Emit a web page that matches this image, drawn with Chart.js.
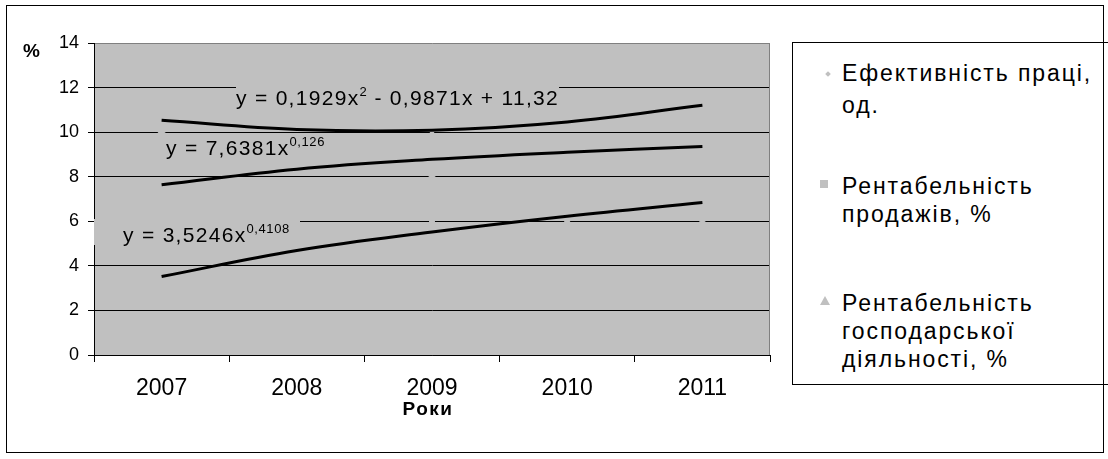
<!DOCTYPE html>
<html>
<head>
<meta charset="utf-8">
<script src="https://cdn.jsdelivr.net/npm/chart.js@4.4.1/dist/chart.umd.min.js"></script>
<style>
  html,body{margin:0;padding:0;background:#fff;}
  body{font-family:"Liberation Sans",Arial,sans-serif;color:#000;}
  #wrap{position:relative;width:1108px;height:459px;overflow:hidden;}
  #chart{position:absolute;left:0;top:0;}
  #frame{position:absolute;left:6px;top:5px;width:1096px;height:446px;border:1px solid #000;pointer-events:none;}
  .eq{position:absolute;font-size:21px;line-height:22px;white-space:nowrap;letter-spacing:1.3px;background:#c0c0c0;}
  .eq sup{font-size:13px;position:relative;top:-9px;vertical-align:baseline;line-height:0;letter-spacing:0.6px;}
  #legend{position:absolute;left:792px;top:42px;width:320px;height:341px;border:1px solid #000;background:#fff;}
  .item{position:absolute;left:49px;font-size:23px;line-height:28px;letter-spacing:1.9px;white-space:nowrap;}
  .mk{position:absolute;background:#c0c0c0;}
  .axt{position:absolute;font-weight:bold;white-space:nowrap;}
</style>
</head>
<body>
<div id="wrap">
  <canvas id="chart" width="1108" height="459"></canvas>
  <div class="eq" style="left:236px;top:87px;">y = 0,1929x<sup>2</sup> - 0,9871x + 11,32</div>
  <div class="eq" style="left:166px;top:137px;">y = 7,6381x<sup>0,126</sup></div>
  <div class="eq" style="left:94px;top:219px;padding:5px 10px 0 29px;line-height:21px;">y = 3,5246x<sup>0,4108</sup></div>
  <div class="axt" style="left:23px;top:40px;font-size:19px;">%</div>
  <div class="axt" style="left:378px;top:398px;width:100px;text-align:center;font-size:19px;letter-spacing:1.5px;">Роки</div>
  <div id="legend">
    <div class="mk" style="left:33px;top:29px;width:4px;height:4px;transform:rotate(45deg);"></div>
    <div class="item" style="top:16px;line-height:28px;">Ефективність праці,</div>
    <div class="item" style="top:48px;line-height:28px;">од.</div>
    <div class="mk" style="left:27px;top:137px;width:8px;height:8px;"></div>
    <div class="item" style="top:129px;">Рентабельність<br>продажів, %</div>
    <div class="mk" style="left:27px;top:253px;width:0;height:0;background:none;border-left:5.5px solid transparent;border-right:5.5px solid transparent;border-bottom:9px solid #c0c0c0;"></div>
    <div class="item" style="top:246px;">Рентабельність<br>господарської<br>діяльності, %</div>
  </div>
  <div id="frame"></div>
</div>
<script>
// ---- data ----
const years = ['2007', '2008', '2009', '2010', '2011'];
const yTicks = [0, 2, 4, 6, 8, 10, 12, 14];
// observed values (markers are light grey, nearly hidden on the plot background)
const laborEfficiency = [10.0, 10.9, 9.9, 10.2, 11.3];
const salesProfitability = [7.5, 8.9, 8.0, 9.5, 9.2];
const businessProfitability = [3.4, 5.2, 6.0, 6.0, 6.0];
// trend lines, read at each year
const trendEfficiency = [10.53, 10.12, 10.09, 10.46, 11.21];
const trendSales = [7.64, 8.34, 8.78, 9.10, 9.36];
const trendBusiness = [3.52, 4.69, 5.52, 6.23, 6.84];
const seriesNames = ['Ефективність праці, од.', 'Рентабельність продажів, %', 'Рентабельність господарської діяльності, %'];

const FONT = '"Liberation Sans", Arial, sans-serif';
const PLOT_BG = '#c0c0c0';

const bgPlugin = {
  id: 'plotBg',
  beforeDraw(chart) {
    const {ctx, chartArea: a} = chart;
    ctx.save();
    ctx.fillStyle = PLOT_BG;
    ctx.fillRect(a.left, a.top, a.right - a.left, a.bottom - a.top);
    ctx.restore();
  },
  beforeDatasetsDraw(chart) {
    const {ctx, chartArea: a} = chart;
    ctx.save();
    ctx.strokeStyle = '#808080';
    ctx.lineWidth = 1;
    ctx.beginPath();
    ctx.moveTo(Math.round(a.right) - 0.5, a.top);
    ctx.lineTo(Math.round(a.right) - 0.5, a.bottom);
    ctx.stroke();
    ctx.restore();
  }
};

function markerSet(label, data, style, r) {
  return {
    label, data, showLine: false, pointStyle: style, pointRadius: r,
    pointBackgroundColor: PLOT_BG, pointBorderColor: PLOT_BG, pointBorderWidth: 1,
    order: 2
  };
}
function trendSet(label, data) {
  return {
    label, data, borderColor: '#000', borderWidth: 3, pointRadius: 0,
    tension: 0.4, fill: false, order: 1
  };
}

new Chart(document.getElementById('chart'), {
  type: 'line',
  data: {
    labels: years,
    datasets: [
      markerSet(seriesNames[0], laborEfficiency, 'rectRot', 3.5),
      markerSet(seriesNames[1], salesProfitability, 'rect', 4),
      markerSet(seriesNames[2], businessProfitability, 'triangle', 4),
      trendSet('trend 1', trendEfficiency),
      trendSet('trend 2', trendSales),
      trendSet('trend 3', trendBusiness)
    ]
  },
  options: {
    responsive: false,
    animation: false,
    layout: {padding: {left: 0, top: 43, right: 338, bottom: 0}},
    plugins: {legend: {display: false}, tooltip: {enabled: false}},
    scales: {
      x: {
        offset: true,
        grid: {offset: true, drawOnChartArea: false, drawTicks: true, tickLength: 7, tickColor: '#000', tickWidth: 1},
        border: {color: '#000', width: 1},
        ticks: {color: '#000', font: {family: FONT, size: 23}, padding: 13, maxRotation: 0},
        afterFit(s) { s.height = 104; }
      },
      y: {
        min: 0, max: 14,
        afterBuildTicks(s) { s.ticks = yTicks.map(v => ({value: v})); },
        ticks: {color: '#000', font: {family: FONT, size: 18}, padding: 9},
        grid: {
          color: c => (c.tick && c.tick.value === 14) ? '#808080' : '#000',
          lineWidth: 1, tickLength: 6, tickColor: '#000', drawTicks: true
        },
        border: {color: '#000', width: 1},
        afterFit(s) { s.width = 94; }
      }
    }
  },
  plugins: [bgPlugin]
});
</script>
</body>
</html>
